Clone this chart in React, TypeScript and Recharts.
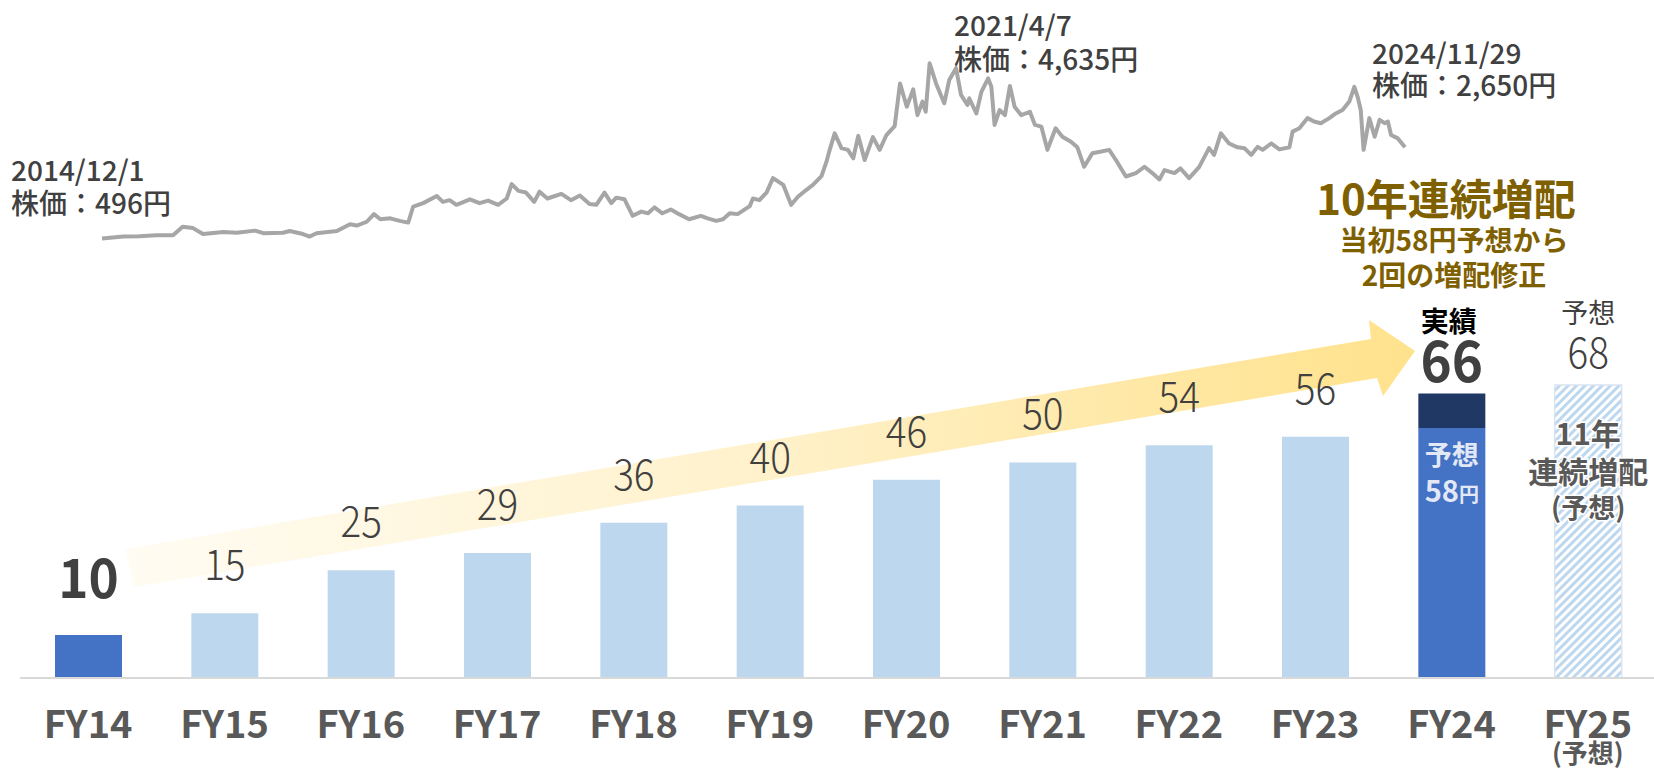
import React from "react";
import { BarChart, Bar, XAxis, YAxis, Cell, LabelList, LineChart, Line } from "recharts";

const fiscalYears = ["FY14", "FY15", "FY16", "FY17", "FY18", "FY19", "FY20", "FY21", "FY22", "FY23", "FY24", "FY25"];
const dividends = [10, 15, 25, 29, 36, 40, 46, 50, 54, 56, 66, 68];
const initialForecastFY24 = 58;

const priceDates = [
  "2014/12/01", "2015/01/30", "2015/03/16", "2015/05/02", "2015/06/18", "2015/07/15", "2015/08/13", "2015/09/10", "2015/11/06", "2015/12/13",
  "2016/02/03", "2016/02/26", "2016/04/21", "2016/05/10", "2016/06/16", "2016/07/05", "2016/07/24", "2016/09/19", "2016/10/26", "2016/11/14",
  "2016/12/12", "2017/01/01", "2017/01/19", "2017/02/16", "2017/03/14", "2017/04/07", "2017/04/21", "2017/05/19", "2017/06/26", "2017/07/13",
  "2017/08/01", "2017/08/20", "2017/09/27", "2017/10/24", "2017/11/17", "2017/12/15", "2018/01/08", "2018/01/22", "2018/02/10", "2018/03/03",
  "2018/03/26", "2018/04/10", "2018/05/02", "2018/06/10", "2018/07/07", "2018/08/01", "2018/08/28", "2018/09/16", "2018/10/09", "2018/10/28",
  "2018/11/11", "2018/12/04", "2018/12/27", "2019/01/20", "2019/02/08", "2019/02/26", "2019/03/20", "2019/04/13", "2019/05/06", "2019/06/03",
  "2019/07/06", "2019/07/25", "2019/08/18", "2019/09/06", "2019/09/25", "2019/10/17", "2019/11/20", "2019/11/29", "2019/12/17", "2020/01/06",
  "2020/01/24", "2020/02/08", "2020/02/22", "2020/03/15", "2020/04/03", "2020/04/26", "2020/05/15", "2020/06/08", "2020/06/22", "2020/07/01",
  "2020/07/15", "2020/08/03", "2020/08/21", "2020/09/05", "2020/09/19", "2020/10/07", "2020/10/30", "2020/11/18", "2020/12/07", "2020/12/30",
  "2021/01/14", "2021/02/02", "2021/02/20", "2021/03/04", "2021/03/18", "2021/03/27", "2021/04/07", "2021/04/25", "2021/05/18", "2021/06/01",
  "2021/06/20", "2021/07/04", "2021/07/22", "2021/07/27", "2021/08/16", "2021/08/30", "2021/09/18", "2021/09/27", "2021/10/06", "2021/10/20",
  "2021/11/04", "2021/11/18", "2021/12/01", "2021/12/20", "2022/01/13", "2022/01/27", "2022/02/14", "2022/03/03", "2022/03/26", "2022/04/14",
  "2022/05/08", "2022/05/26", "2022/06/14", "2022/07/07", "2022/08/01", "2022/08/23", "2022/09/11", "2022/10/09", "2022/11/06", "2022/11/30",
  "2022/12/22", "2023/01/11", "2023/01/25", "2023/02/22", "2023/03/11", "2023/04/04", "2023/05/02", "2023/05/30", "2023/06/13", "2023/07/02",
  "2023/07/25", "2023/08/18", "2023/09/06", "2023/09/25", "2023/10/13", "2023/10/27", "2023/11/20", "2023/12/13", "2024/01/10", "2024/01/19",
  "2024/02/07", "2024/03/01", "2024/03/19", "2024/04/07", "2024/05/01", "2024/05/19", "2024/06/07", "2024/06/26", "2024/07/10", "2024/07/19",
  "2024/07/28", "2024/08/05", "2024/08/21", "2024/09/05", "2024/09/19", "2024/10/03", "2024/10/12", "2024/10/21", "2024/11/09", "2024/11/29",
];

const prices = [
  496, 540, 550, 570, 570, 770, 740, 600, 650, 630,
  680, 620, 630, 670, 600, 540, 620, 670, 830, 800,
  890, 1070, 950, 970, 910, 870, 1250, 1330, 1500, 1360,
  1400, 1290, 1420, 1330, 1390, 1290, 1440, 1780, 1620, 1580,
  1360, 1600, 1440, 1550, 1400, 1510, 1310, 1290, 1580, 1330,
  1460, 1420, 1030, 1130, 1090, 1230, 1090, 1180, 1070, 950,
  1030, 970, 910, 950, 1090, 1070, 1260, 1440, 1400, 1580,
  1920, 1840, 1760, 1290, 1480, 1640, 1760, 1970, 2310, 2590,
  2980, 2630, 2590, 2390, 2920, 2350, 2890, 2590, 2940, 3150,
  4160, 3610, 4020, 3410, 3730, 3490, 4635, 4160, 3690, 4240,
  4520, 3890, 3650, 3810, 3450, 3960, 4280, 4080, 3180, 3530,
  3410, 4100, 3610, 3410, 3490, 3180, 3140, 2590, 3100, 2900,
  2780, 2650, 2190, 2510, 2550, 2590, 2350, 1960, 2040, 2190,
  2040, 1890, 2110, 2040, 2150, 1920, 2180, 2630, 2470, 2980,
  2740, 2650, 2630, 2470, 2660, 2590, 2740, 2600, 2650, 3020,
  3100, 3340, 3260, 3220, 3340, 3450, 3530, 3730, 4080, 3850,
  3530, 2590, 3340, 2900, 3300, 3220, 3260, 2940, 2860, 2650,
];

const FONT = "'Noto Sans CJK JP', 'Noto Sans', sans-serif";

const barData = fiscalYears.map((fy, i) => {
  const total = dividends[i];
  const base = fy === "FY24" ? initialForecastFY24 : total;
  return { fy, total, base, extra: total - base };
});

const priceData = priceDates.map((d, i) => ({ t: new Date(d).getTime(), price: prices[i] }));
const tStart = priceData[0].t;
const tEnd = priceData[priceData.length - 1].t;

const barFill = (i: number) => (i === 0 || i === 10 ? "#4472C4" : i === 11 ? "url(#hatch)" : "#BDD7EE");

const FyTick = (props: any) => {
  const { x, y, payload } = props;
  const forecast = payload.value === "FY25";
  return (
    <g>
      <text x={x} y={y + 60} textAnchor="middle" fontSize={38} fontWeight={700} fill="#595959" fontFamily={FONT}>
        {payload.value}
      </text>
      {forecast && (
        <text x={x} y={y + 85} textAnchor="middle" fontSize={26} fontWeight={700} fill="#595959" fontFamily={FONT}>
          (予想)
        </text>
      )}
    </g>
  );
};

// 細い数字ラベル（横をやや詰める）
const thinNum = (cx: number, by: number, v: number) => (
  <text
    transform={`translate(${cx},${by}) scale(0.9,1)`}
    textAnchor="middle"
    fontSize={43}
    fontWeight={300}
    fill="#404040"
    fontFamily={FONT}
  >
    {v}
  </text>
);

const renderLabel = (props: any) => {
  const { x, y, width, height, value } = props;
  const cx = x + width / 2;
  const i = dividends.indexOf(value);
  if (i < 0) return null;
  const row = barData[i];
  // 積み上げの頂点（base の高さから 1 単位あたりの px を求める）
  const top = y - (row.extra * height) / row.base;
  if (i === 0) {
    return (
      <text
        transform={`translate(${cx},${top - 37}) scale(0.95,1)`}
        textAnchor="middle"
        fontSize={54}
        fontWeight={700}
        fill="#404040"
        fontFamily={FONT}
      >
        {value}
      </text>
    );
  }
  if (i === 10) {
    return (
      <g fontFamily={FONT}>
        <text x={cx - 3} y={top - 62} textAnchor="middle" fontSize={28} fontWeight={700} fill="#000">実績</text>
        <text
          transform={`translate(${cx},${top - 12}) scale(0.93,1)`}
          textAnchor="middle"
          fontSize={57}
          fontWeight={700}
          fill="#404040"
        >
          {value}
        </text>
        <text x={cx} y={top + 71} textAnchor="middle" fontSize={27} fontWeight={700} fill="#E2E8F5">予想</text>
        <text x={cx} y={top + 108} textAnchor="middle" fontSize={29} fontWeight={700} fill="#E2E8F5">
          {initialForecastFY24}
          <tspan fontSize={20}>円</tspan>
        </text>
      </g>
    );
  }
  if (i === 11) {
    return (
      <g fontFamily={FONT}>
        <text x={cx} y={top - 62} textAnchor="middle" fontSize={27} fill="#404040">予想</text>
        {thinNum(cx, top - 17, value)}
        <g fontWeight={700} fill="#595959" textAnchor="middle" stroke="#fff" strokeWidth={3} paintOrder="stroke">
          <text x={cx} y={top + 60} fontSize={30}>11年</text>
          <text x={cx} y={top + 98} fontSize={30}>連続増配</text>
          <text x={cx} y={top + 133} fontSize={27}>(予想)</text>
        </g>
      </g>
    );
  }
  return thinNum(cx, top - 33, value);
};

const layer: React.CSSProperties = { position: "absolute", left: 0, top: 0 };

export default function App() {
  return (
    <div style={{ position: "absolute", left: 0, top: 0, width: 1654, height: 768, overflow: "hidden", background: "#fff" }}>
      {/* 背景の矢印 */}
      <svg width={1654} height={768} style={layer}>
        <defs>
          <linearGradient id="arrowGrad" x1="0" y1="0" x2="1" y2="0">
            <stop offset="0%" stopColor="#FFFCF3" />
            <stop offset="50%" stopColor="#FFF1CA" />
            <stop offset="100%" stopColor="#FFE28C" />
          </linearGradient>
        </defs>
        <polygon
          points="125,549 1371,339 1369,320 1415,351 1383,396 1377,378 134,587"
          fill="url(#arrowGrad)"
        />
      </svg>

      {/* 配当の棒グラフ */}
      <div style={layer}>
        <BarChart width={1660} height={768} data={barData} margin={{ top: 0, right: 4, left: 20, bottom: 0 }} barSize={67}>
          <defs>
            <pattern id="hatch" patternUnits="userSpaceOnUse" width="6" height="6" patternTransform="rotate(45)">
              <rect width="6" height="6" fill="#fff" />
              <rect width="3" height="6" fill="#BDD7EE" />
            </pattern>
          </defs>
          <XAxis
            dataKey="fy"
            height={90}
            interval={0}
            tickSize={0}
            tickMargin={0}
            tickLine={false}
            axisLine={{ stroke: "#D9D9D9", strokeWidth: 2 }}
            tick={<FyTick />}
          />
          <YAxis hide domain={[0, 157.3]} />
          <Bar dataKey="base" stackId="d" isAnimationActive={false}>
            {barData.map((_, i) => (
              <Cell key={i} fill={barFill(i)} stroke={i === 11 ? "#DAE3F3" : "none"} strokeWidth={1.5} />
            ))}
            <LabelList dataKey="total" content={renderLabel} />
          </Bar>
          <Bar dataKey="extra" stackId="d" fill="#203864" isAnimationActive={false} />
        </BarChart>
      </div>

      {/* 株価の折れ線 */}
      <div style={layer}>
        <LineChart width={1654} height={768} data={priceData} margin={{ top: 0, right: 249, bottom: 508.6, left: 102 }}>
          <XAxis hide type="number" dataKey="t" domain={[tStart, tEnd]} />
          <YAxis hide domain={[0, 6132]} />
          <Line
            dataKey="price"
            type="linear"
            stroke="#A6A6A6"
            strokeWidth={4}
            strokeLinejoin="round"
            dot={false}
            isAnimationActive={false}
          />
        </LineChart>
      </div>

      {/* 注記 */}
      <svg width={1654} height={768} style={layer} fontFamily={FONT}>
        <g fontSize={28} fontWeight={500} fill="#404040">
          <text x={11} y={181}>2014/12/1</text>
          <text x={11} y={214}>株価：496円</text>
          <text x={954} y={36}>2021/4/7</text>
          <text x={954} y={70}>株価：4,635円</text>
          <text x={1372} y={64}>2024/11/29</text>
          <text x={1372} y={96}>株価：2,650円</text>
        </g>
        <g fill="#7F6000" fontWeight={700} textAnchor="middle">
          <text x={1446} y={215} fontSize={42}>10年連続増配</text>
          <text x={1454} y={251} fontSize={28}>当初58円予想から</text>
          <text x={1454} y={286} fontSize={28}>2回の増配修正</text>
        </g>
      </svg>
    </div>
  );
}
